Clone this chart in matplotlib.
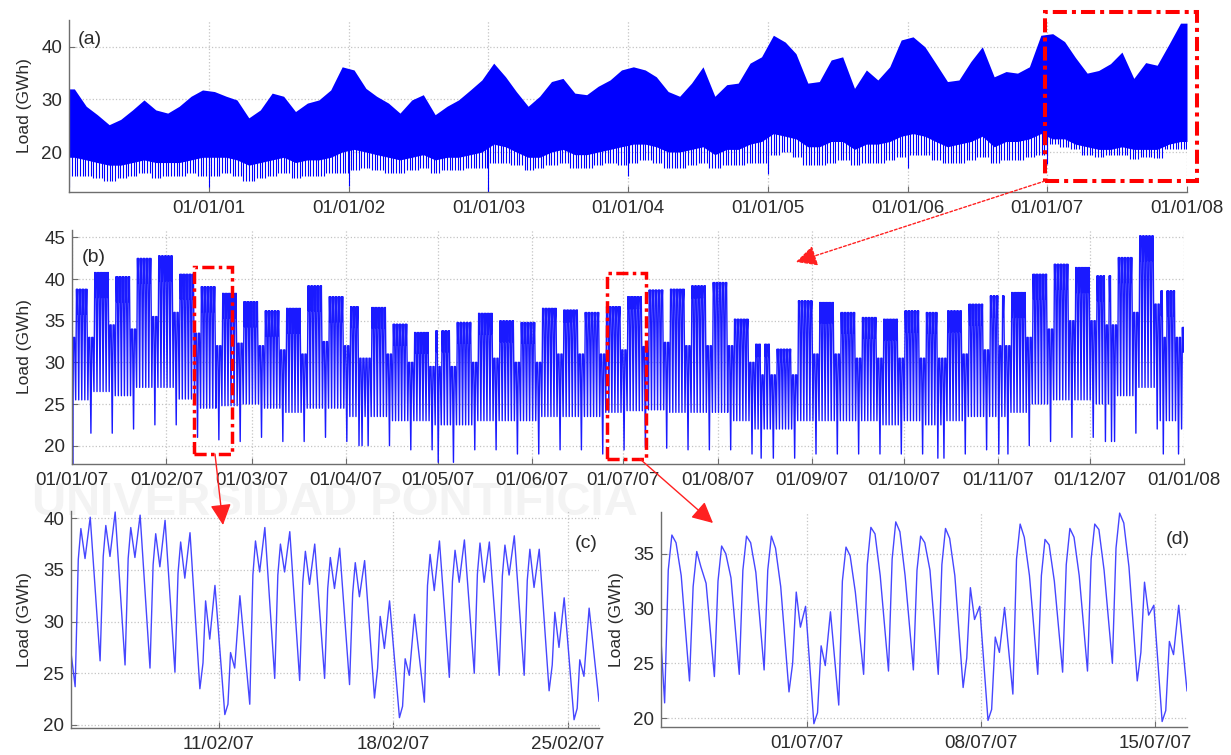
import numpy as np
import matplotlib
matplotlib.use("Agg")
import matplotlib.pyplot as plt
import matplotlib.dates as mdates
from matplotlib.patches import Rectangle, FancyArrowPatch

W, H = 1231, 755

# ---- (a) 2000-2007, monthly envelope (GWh) ----
a_peak = np.array([
    [32.0, 28.7, 27.1, 25.2, 26.2, 28.0, 29.9, 28.0, 27.4, 28.7, 30.6, 31.8],
    [31.5, 30.6, 29.9, 26.5, 28.0, 31.2, 30.6, 27.7, 29.3, 29.9, 31.8, 36.2],
    [35.6, 32.1, 30.6, 29.3, 27.4, 29.9, 30.9, 27.1, 28.7, 29.9, 31.8, 33.7],
    [36.9, 34.3, 31.5, 28.7, 30.6, 33.4, 34.0, 31.2, 30.9, 32.5, 33.7, 35.6],
    [36.2, 35.6, 34.3, 31.5, 30.6, 33.1, 36.2, 30.6, 32.8, 33.1, 36.9, 38.1],
    [42.2, 40.9, 38.7, 33.1, 33.4, 37.5, 38.1, 32.1, 35.6, 33.7, 36.2, 41.3],
    [41.9, 40.0, 36.9, 33.4, 33.7, 37.2, 40.0, 34.3, 35.3, 35.0, 36.2, 42.2],
    [42.5, 41.0, 38.0, 35.0, 35.5, 36.8, 39.0, 34.0, 37.0, 36.5, 40.5, 44.5],
]).ravel()
a_low = np.array([
    [19.0, 18.5, 18.0, 17.5, 17.5, 18.0, 18.5, 18.0, 18.0, 18.0, 18.5, 19.0],
    [19.0, 19.0, 18.5, 17.5, 18.0, 18.5, 19.0, 18.0, 18.5, 18.5, 19.0, 20.0],
    [20.5, 20.0, 19.5, 19.0, 18.5, 19.0, 19.5, 18.5, 19.0, 19.0, 19.5, 20.0],
    [21.5, 21.0, 20.0, 19.0, 19.0, 20.0, 20.5, 19.5, 19.5, 20.0, 20.5, 21.0],
    [21.5, 21.5, 21.0, 20.0, 20.0, 20.5, 21.0, 19.5, 20.5, 20.5, 21.5, 22.0],
    [23.5, 23.0, 22.5, 21.0, 21.0, 22.0, 22.0, 20.5, 21.5, 21.5, 22.0, 23.0],
    [23.5, 23.0, 22.0, 21.0, 21.5, 22.0, 23.0, 21.0, 22.0, 22.0, 22.5, 23.5],
    [22.5, 22.5, 21.5, 21.0, 20.5, 20.5, 21.0, 20.5, 20.5, 20.5, 21.5, 22.0],
]).ravel()
a_we_low = np.array([
    [15.5, 15.5, 15.0, 14.5, 15.0, 15.5, 16.0, 15.0, 15.5, 15.5, 16.0, 15.5],
    [15.5, 16.0, 15.5, 14.5, 15.0, 15.5, 16.0, 15.0, 15.5, 15.5, 16.0, 16.0],
    [16.5, 17.0, 16.5, 16.0, 16.0, 16.5, 17.0, 16.0, 16.5, 16.5, 17.0, 17.0],
    [18.0, 18.0, 17.5, 16.5, 17.0, 17.5, 18.0, 17.0, 17.0, 17.5, 18.0, 17.5],
    [18.0, 18.5, 18.0, 17.0, 17.0, 17.5, 18.0, 17.0, 17.5, 17.5, 18.0, 18.0],
    [19.5, 20.0, 19.0, 17.5, 17.5, 18.0, 18.5, 17.5, 18.0, 18.0, 18.5, 19.0],
    [19.5, 19.5, 18.5, 18.0, 18.0, 18.5, 19.0, 18.0, 18.5, 18.5, 19.0, 19.5],
    [21.5, 21.0, 20.5, 19.5, 19.0, 19.5, 19.5, 18.7, 19.0, 18.8, 20.5, 20.5],
]).ravel()
# new-year day minimum, 2000 ... 2007
ny_low = np.array([13.3, 13.3, 13.5, 12.4, 15.5, 15.8, 17.0, 17.8])

# ---- (b) 2007, weekly values (week 1 starts Mon 01/01/07) ----
b_peak = np.array([38.8, 40.8, 40.3, 42.5, 42.8, 40.6, 39.1, 38.3, 37.3, 36.2,
                   36.5, 39.2, 37.9, 36.7, 36.6, 34.6, 33.6, 33.8, 34.8, 35.9,
                   35.0, 34.8, 36.5, 36.3, 36.0, 36.7, 37.9, 38.7, 38.8, 39.2,
                   39.6, 35.2, 32.2, 31.6, 37.4, 37.2, 36.0, 35.4, 35.2, 36.2,
                   36.0, 36.2, 37.0, 38.0, 38.4, 40.6, 41.8, 41.4, 40.4, 42.6,
                   45.2, 38.6, 34.2])
b_dip = np.array([35.8, 37.8, 37.3, 39.5, 39.8, 37.6, 36.1, 35.3, 34.3, 33.2,
                  33.5, 36.2, 34.9, 34.2, 34.1, 32.1, 31.1, 31.3, 32.3, 33.4,
                  32.5, 32.3, 35.0, 34.8, 34.5, 35.2, 36.4, 37.2, 37.3, 37.7,
                  38.1, 33.7, 30.7, 30.1, 35.9, 34.7, 33.5, 32.9, 32.7, 33.7,
                  33.5, 33.7, 34.5, 35.5, 35.4, 37.6, 38.8, 38.4, 37.4, 39.6,
                  42.2, 35.6, 31.2])
b_low = np.array([25.5, 26.5, 26.0, 27.0, 27.0, 25.6, 24.5, 24.8, 25.0, 24.5,
                  24.0, 24.5, 24.5, 23.5, 23.5, 23.0, 23.0, 22.5, 22.5, 23.0,
                  23.0, 23.0, 23.5, 23.5, 23.5, 24.0, 24.2, 24.3, 24.0, 24.0,
                  24.0, 23.0, 22.0, 22.0, 23.0, 23.0, 23.0, 23.0, 22.5, 23.0,
                  22.5, 23.0, 23.5, 23.5, 24.0, 25.0, 25.5, 25.5, 25.0, 26.0,
                  27.0, 23.0, 22.0])
b_we_peak = np.array([33.0, 34.5, 34.0, 35.5, 36.0, 33.5, 32.0, 32.3, 32.0, 31.5,
                      31.0, 32.5, 32.0, 30.5, 31.0, 30.0, 29.5, 29.5, 30.0, 30.5,
                      30.0, 30.0, 31.0, 31.0, 31.0, 31.5, 31.9, 32.4, 32.0, 32.0,
                      32.0, 30.0, 28.5, 28.5, 31.0, 31.0, 30.5, 30.5, 30.5, 30.5,
                      30.5, 31.0, 31.5, 32.0, 33.0, 34.0, 35.0, 35.0, 34.5, 36.0,
                      37.0, 33.0, 30.0])
b_we_low = np.array([21.5, 21.5, 22.0, 22.5, 22.5, 21.0, 20.7, 20.5, 21.0, 20.5,
                     20.5, 21.0, 20.5, 20.0, 20.0, 19.5, 19.5, 18.0, 19.5, 19.5,
                     19.0, 19.0, 19.5, 19.5, 19.0, 19.5, 19.8, 19.7, 19.5, 19.5,
                     19.5, 19.0, 18.5, 18.5, 19.0, 19.0, 19.0, 19.0, 19.0, 19.0,
                     18.5, 19.0, 19.5, 19.0, 20.0, 20.5, 21.0, 21.0, 20.5, 21.5,
                     22.0, 19.0, 19.5])
holidays_2007 = np.array(["2007-01-01", "2007-04-05", "2007-04-06", "2007-05-01",
                          "2007-08-15", "2007-10-12", "2007-11-01", "2007-12-06",
                          "2007-12-08", "2007-12-25"], dtype="datetime64[D]")
b_start = 31.5

# ---- (c) 05/02/07 - 26/02/07: night min, 9h, morning peak, afternoon dip, evening peak ----
c_low = [23.7, 26.2, 25.8, 25.5, 25.1, 23.5, 21.0, 22.0, 24.5, 24.3, 24.5,
         23.9, 22.6, 20.7, 22.2, 24.6, 25.0, 24.8, 24.8, 23.3, 20.5, 22.3]
c_rise = [36.0, 36.3, 36.1, 35.5, 34.7, 26.0, 22.0, 34.5, 34.5, 33.8, 33.2,
          32.7, 25.5, 21.8, 33.5, 33.9, 34.6, 34.4, 34.0, 25.8, 21.6]
c_am = [39.0, 39.3, 39.1, 38.5, 37.7, 32.0, 27.0, 37.8, 37.5, 36.8, 36.2,
        35.7, 30.5, 26.4, 36.5, 36.9, 37.6, 37.4, 37.0, 30.9, 26.3]
c_dip = [36.1, 36.3, 36.2, 35.3, 34.2, 28.3, 25.5, 34.8, 34.8, 33.6, 33.2,
         32.4, 27.4, 24.8, 33.0, 33.8, 33.8, 34.5, 33.3, 27.5, 24.7]
c_pm = [40.1, 40.6, 40.3, 39.8, 38.6, 33.5, 32.5, 39.1, 38.7, 37.5, 37.1,
        35.9, 32.0, 30.7, 37.8, 37.9, 37.7, 38.3, 37.0, 32.3, 31.3]
c_start = 27.0

# ---- (d) 25/06/07 - 16/07/07: night min, 10h, midday peak, afternoon, evening shoulder ----
d_low = [21.4, 23.4, 23.8, 24.0, 24.4, 22.4, 19.5, 21.2, 24.0, 24.3, 24.4,
         24.0, 22.8, 19.8, 22.2, 24.0, 24.2, 24.3, 25.0, 23.4, 19.7, 22.5]
d_rise = [33.5, 32.0, 32.5, 33.5, 33.5, 25.0, 20.5, 32.5, 34.0, 34.5, 33.5,
          34.0, 25.5, 20.8, 34.5, 33.0, 34.0, 34.5, 35.5, 26.0, 20.7]
d_p1 = [36.7, 35.2, 35.7, 36.6, 36.6, 31.5, 26.6, 35.6, 37.4, 37.9, 36.6,
        37.3, 31.9, 27.4, 37.7, 36.3, 37.3, 37.7, 38.7, 32.4, 27.0]
d_p2 = [36.0, 33.8, 35.0, 36.0, 35.5, 28.3, 24.8, 34.8, 36.8, 37.0, 36.0,
        36.4, 29.0, 26.0, 36.5, 35.8, 36.5, 37.2, 37.8, 29.4, 25.8]
d_p3 = [33.0, 32.3, 32.8, 33.3, 32.0, 30.2, 29.7, 31.5, 33.0, 33.0, 33.5,
        33.0, 30.2, 30.1, 33.0, 32.5, 33.0, 33.5, 33.8, 30.3, 30.3]
d_start = 27.1


def at_hours(days, hours):
    mins = (np.asarray(hours) * 60).astype("timedelta64[m]")
    return (days.astype("datetime64[m]")[:, None] + mins[None, :]).ravel()


# (a): envelope at mid-month, weekly Sunday dips below it
months = np.arange("2000-01", "2008-01", dtype="datetime64[M]")
x_env = np.concatenate([[np.datetime64("2000-01-01")],
                        months.astype("datetime64[D]") + 14,
                        [np.datetime64("2008-01-01")]])
env_top = np.concatenate([[a_peak[0]], a_peak, [a_peak[-1]]])
env_bot = np.concatenate([[a_low[0]], a_low, [a_low[-1]]])

days_a = np.arange("2000-01-01", "2008-01-01", dtype="datetime64[D]")
m = (days_a.astype("datetime64[M]") - months[0]).astype(int)
dow = (days_a.astype("int64") + 3) % 7
newyear = days_a == days_a.astype("datetime64[Y]").astype("datetime64[D]")
yi = days_a.astype("datetime64[Y]").astype(int) - 30
dips = (dow == 6) | newyear
dip_low = np.where(newyear, ny_low[yi], a_we_low[m])

# (b): 2007 day by day from the weekly values
days_b = np.arange("2007-01-01", "2008-01-01", dtype="datetime64[D]")
wk = np.arange(days_b.size) // 7
dow_b = np.arange(days_b.size) % 7
off = (dow_b == 6) | np.isin(days_b, holidays_2007)
we = (dow_b == 5) | off
low_b = np.where(off, b_we_low[wk], b_low[wk])
low_b[0] = ny_low[7]
pk_b = np.where(we, b_we_peak[wk], b_peak[wk])
dp_b = np.where(we, b_we_peak[wk], b_dip[wk])
tb = np.concatenate([[np.datetime64("2007-01-01T00:00")],
                     at_hours(days_b, [5.0, 11.5, 15.5, 20.5])])
vb = np.concatenate([[b_start], np.column_stack([low_b, pk_b, dp_b, pk_b]).ravel()])


def zoom_series(first, cols, hours, start_time, start_val, end_val):
    n = len(cols[1])
    days = np.arange(first, np.datetime64(first) + n, dtype="datetime64[D]")
    t = at_hours(days, hours)
    v = np.column_stack([cols[0][:n]] + list(cols[1:])).ravel()
    t_end = days[-1].astype("datetime64[m]") + np.timedelta64(int((24 + hours[0]) * 60), "m")
    t = np.concatenate([[np.datetime64(start_time)], t, [t_end]])
    v = np.concatenate([[start_val], v, [end_val]])
    return t, v


tc, vc = zoom_series("2007-02-05", [c_low, c_rise, c_am, c_dip, c_pm],
                     [6, 9, 11.5, 15.5, 20.5], "2007-02-05T02:00", c_start, c_low[-1])
td, vd = zoom_series("2007-06-25", [d_low, d_rise, d_p1, d_p2, d_p3],
                     [6.5, 10, 13.5, 17.5, 22.5], "2007-06-25T03:00", d_start, d_low[-1])

plt.rcParams["font.family"] = ["Liberation Sans", "DejaVu Sans"]
fig = plt.figure(figsize=(W / 100, H / 100), dpi=100)


def box(l, t, r, b):
    return [l / W, 1 - b / H, (r - l) / W, (b - t) / H]


ax_a = fig.add_axes(box(69, 20, 1187, 192))
ax_b = fig.add_axes(box(72, 230, 1184, 464))
ax_c = fig.add_axes(box(71, 511, 599, 728))
ax_d = fig.add_axes(box(661, 512, 1187, 727))

fig.text(335 / W, 1 - 503 / H, "UNIVERSIDAD PONTIFICIA", fontsize=34, fontweight="bold",
         color="#f3f3f3", ha="center", va="center", zorder=-5)

ax_a.fill_between(x_env, env_bot, env_top, color="#0000ff", lw=0)
ax_a.vlines(days_a[dips], dip_low[dips], a_low[m][dips] + 2, color="#0000ff", lw=0.8)
ax_b.plot(tb, vb, color="#1a1aff", lw=1.0)
ax_c.plot(tc, vc, color="#4646ff", lw=1.0)
ax_d.plot(td, vd, color="#4646ff", lw=1.0)

fmt = mdates.DateFormatter("%d/%m/%y")
ax_a.set_xlim(np.datetime64("2000-01-01"), np.datetime64("2008-01-01"))
ax_a.set_xticks([np.datetime64(f"{y}-01-01") for y in range(2001, 2009)])
ax_a.set_ylim(12.4, 45.1)
ax_b.set_xlim(np.datetime64("2007-01-01"), np.datetime64("2008-01-01"))
ax_b.set_xticks(np.arange("2007-01", "2008-02", dtype="datetime64[M]").astype("datetime64[D]"))
ax_b.set_ylim(17.8, 45.9)
ax_c.set_xlim(tc[0], tc[-1])
ax_c.set_xticks(np.array(["2007-02-11", "2007-02-18", "2007-02-25"], dtype="datetime64[D]"))
ax_c.set_ylim(19.7, 40.7)
ax_d.set_xlim(td[0], td[-1])
ax_d.set_xticks(np.array(["2007-07-01", "2007-07-08", "2007-07-15"], dtype="datetime64[D]"))
ax_d.set_ylim(19.2, 38.8)

yticks = {ax_a: [20, 30, 40], ax_b: [20, 25, 30, 35, 40, 45],
          ax_c: [20, 25, 30, 35, 40], ax_d: [20, 25, 30, 35]}
label_x = {ax_a: -0.033, ax_b: -0.036, ax_c: -0.074, ax_d: -0.070}
for ax in (ax_a, ax_b, ax_c, ax_d):
    ax.set_facecolor("none")
    ax.xaxis.set_major_formatter(fmt)
    ax.set_yticks(yticks[ax])
    for s in ("top", "right"):
        ax.spines[s].set_visible(False)
    for s in ("left", "bottom"):
        ax.spines[s].set_color("#6e6e6e")
        ax.spines[s].set_linewidth(1.0)
    ax.tick_params(direction="in", length=4, color="#6e6e6e", labelsize=13.5,
                   labelcolor="#2b2b2b")
    ax.tick_params(axis="x", pad=6)
    ax.tick_params(axis="y", pad=5)
    ax.grid(True, ls=":", color="#c4c4c4", lw=0.9)
    ax.set_axisbelow(True)
    ax.set_ylabel("Load (GWh)", fontsize=12.5, color="#2b2b2b")
    ax.yaxis.set_label_coords(label_x[ax], 0.5)

for lab, x, y in (("(a)", 90, 40), ("(b)", 94, 258), ("(c)", 586, 543), ("(d)", 1178, 540)):
    fig.text(x / W, 1 - y / H, lab, fontsize=14, color="#2b2b2b", ha="center", va="center")


def fp(x, y):
    return (x / W, 1 - y / H)


for (l, t, r, b), lw in (((1045, 12, 1197, 181), 2.9), ((194, 267, 232, 454), 2.5),
                         ((607, 273, 646, 459), 2.5)):
    fig.add_artist(Rectangle(fp(l, b), (r - l) / W, (b - t) / H, transform=fig.transFigure,
                             fill=False, edgecolor="#ff0000", lw=lw,
                             linestyle=(0, (3.5, 1.25, 1.0, 1.25)), clip_on=False, zorder=5))

for (x0, y0, x1, y1), ls in (((1045, 181, 796, 262), (0, (2, 1.5))),
                             ((215, 454, 223, 525), "-"),
                             ((640, 459, 713, 523), "-")):
    fig.add_artist(FancyArrowPatch(fp(x0, y0), fp(x1, y1), transform=fig.transFigure,
                                   arrowstyle="-|>,head_length=0.8,head_width=0.4",
                                   mutation_scale=16, color="#ff2020", lw=1.0,
                                   linestyle=ls, shrinkA=0, shrinkB=0, zorder=6))

fig.savefig("out.png", dpi=100)
